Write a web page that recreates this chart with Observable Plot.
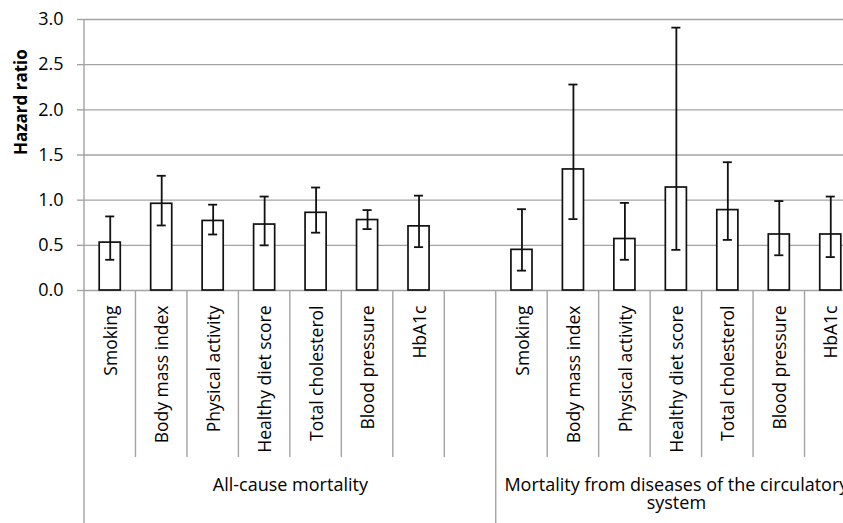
<!DOCTYPE html>
<html><head><meta charset="utf-8">
<script src="https://cdn.jsdelivr.net/npm/d3@7"></script>
<script src="https://cdn.jsdelivr.net/npm/@observablehq/plot@0.6"></script>
<style>
html,body{margin:0;padding:0;background:#fff;overflow:hidden;width:843px;height:523px}
#chart{width:843px;height:523px;overflow:hidden}
#chart svg{display:block;background:#fff;max-width:none !important;height:523px !important}
</style></head><body><div id="chart"></div>
<script>
// ---- data ----
const groups = ["All-cause mortality", "Mortality from diseases of the circulatory system"];
const factors = ["Smoking", "Body mass index", "Physical activity", "Healthy diet score", "Total cholesterol", "Blood pressure", "HbA1c"];
const hrAll    = [0.53, 0.96, 0.77, 0.73, 0.86, 0.78, 0.71];
const lowAll   = [0.34, 0.72, 0.62, 0.50, 0.64, 0.68, 0.48];
const highAll  = [0.82, 1.27, 0.95, 1.04, 1.14, 0.89, 1.05];
const hrCirc   = [0.45, 1.34, 0.57, 1.14, 0.89, 0.62, 0.62];
const lowCirc  = [0.22, 0.79, 0.34, 0.45, 0.56, 0.39, 0.37];
const highCirc = [0.90, 2.28, 0.97, 2.91, 1.42, 0.99, 1.04];
const yTicks = [0, 0.5, 1.0, 1.5, 2.0, 2.5, 3.0];

// ---- derived table ----
const n = factors.length;
const slotCount = 2 * n + 1; // one empty slot between groups
const rows = [];
factors.forEach((f, i) => rows.push({group: groups[0], factor: f, slot: i, hr: hrAll[i], lo: lowAll[i], hi: highAll[i]}));
factors.forEach((f, i) => rows.push({group: groups[1], factor: f, slot: n + 1 + i, hr: hrCirc[i], lo: lowCirc[i], hi: highCirc[i]}));
const spans = [
  {name: groups[0], start: 0, end: n + 1},
  {name: groups[1], start: n + 1, end: slotCount}
];

const GRAY = "#a3a3a3";
const INK = "#000";
const FONT = "'Open Sans', sans-serif";

// separators below the axis (and the y-axis line)
const separators = (index, scales, values, dims) => {
  const x = scales.x, y = scales.y;
  const g = d3.create("svg:g").attr("stroke", GRAY).attr("stroke-width", 1.4).attr("fill", "none");
  const y0 = y(0);
  for (let k = 0; k <= slotCount; k++) {
    const isLong = k === 0 || k === n + 1;
    g.append("line")
      .attr("x1", x(k)).attr("x2", x(k))
      .attr("y1", k === 0 ? dims.marginTop : y0)
      .attr("y2", isLong ? dims.height : y0 + 167);
  }
  return g.node();
};

const chart = Plot.plot({
  width: 856,
  height: 523,
  marginLeft: 84,
  marginRight: 0,
  marginTop: 19,
  marginBottom: 233,
  style: {fontFamily: FONT, fontSize: "17.5px", color: INK, background: "#fff", maxWidth: "none"},
  x: {type: "linear", domain: [0, slotCount], axis: null},
  y: {domain: [0, 3], axis: null},
  marks: [
    Plot.gridY(yTicks, {stroke: GRAY, strokeOpacity: 1, strokeWidth: 1.4}),
    Plot.axisY(yTicks, {tickSize: 7, tickPadding: 14, tickFormat: d3.format(".1f"), stroke: GRAY, strokeWidth: 1.4, strokeOpacity: 1, fill: INK, label: null, fontSize: 18}),
    Plot.text(["Hazard ratio"], {frameAnchor: "left", rotate: -90, dx: -63, fontWeight: "bold", fontSize: 17, fill: INK}),
    separators,
    Plot.rectY(rows, {x1: "slot", x2: d => d.slot + 1, y: "hr", insetLeft: 15.2, insetRight: 15.2, fill: "#fff", stroke: "#111", strokeWidth: 1.7}),
    Plot.ruleX(rows, {x: d => d.slot + 0.5, y1: "lo", y2: "hi", stroke: "#111", strokeWidth: 1.8}),
    Plot.ruleY(rows, {y: "hi", x1: "slot", x2: d => d.slot + 1, insetLeft: 21.2, insetRight: 21.2, stroke: "#111", strokeWidth: 1.8}),
    Plot.ruleY(rows, {y: "lo", x1: "slot", x2: d => d.slot + 1, insetLeft: 21.2, insetRight: 21.2, stroke: "#111", strokeWidth: 1.8}),
    Plot.text(rows, {x: d => d.slot + 0.5, text: "factor", frameAnchor: "bottom", rotate: -90, textAnchor: "end", lineAnchor: "middle", dy: 15, dx: 1, fill: INK}),
    Plot.text(spans, {x: d => (d.start + d.end) / 2, text: "name", frameAnchor: "bottom", lineAnchor: "top", dy: 187, lineWidth: 21.5, lineHeight: 1.02, fontSize: 18, fill: INK})
  ]
});
document.getElementById("chart").append(chart);
</script>
</body></html>
